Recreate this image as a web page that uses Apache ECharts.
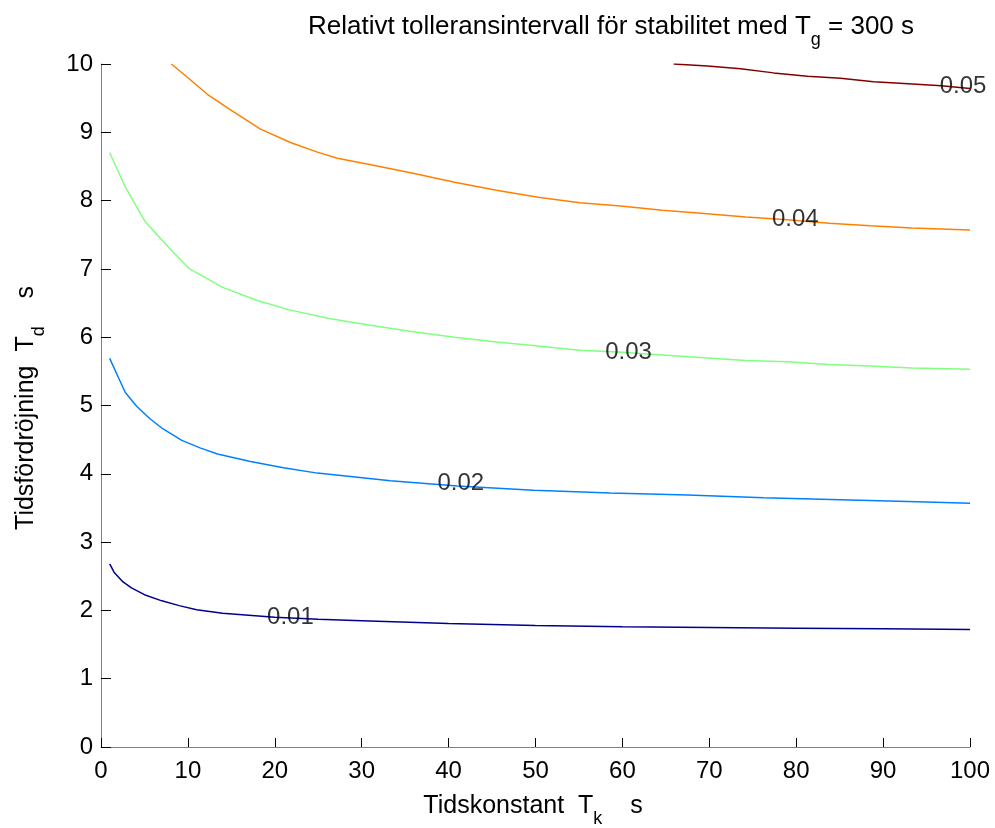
<!DOCTYPE html>
<html>
<head>
<meta charset="utf-8">
<script src="https://cdn.jsdelivr.net/npm/echarts@6/dist/echarts.min.js"></script>
<style>
html,body{margin:0;padding:0;background:#fff;}
#main{width:995px;height:828px;}
</style>
</head>
<body>
<div id="main"></div>
<script>
// Contour level 0.01
const tk01 = [1, 1.5, 2.5, 3.5, 5, 7, 9, 11, 14, 17, 20, 25, 30, 40, 50, 60, 70, 80, 90, 100];
const td01 = [2.68, 2.56, 2.42, 2.33, 2.23, 2.14, 2.07, 2.01, 1.96, 1.93, 1.90, 1.87, 1.85, 1.81, 1.78, 1.76, 1.75, 1.74, 1.73, 1.72];
// Contour level 0.02
const tk02 = [1, 2, 2.8, 4.1, 5.6, 7.1, 9.3, 11.4, 13.4, 17.2, 21, 24.9, 28.7, 33.3, 41, 49.8, 58.6, 67.5, 76.3, 85.1, 93.9, 100];
const td02 = [5.69, 5.41, 5.19, 4.99, 4.81, 4.66, 4.49, 4.38, 4.29, 4.18, 4.09, 4.01, 3.96, 3.90, 3.82, 3.76, 3.72, 3.69, 3.65, 3.62, 3.59, 3.57];
// Contour level 0.03
const tk03 = [1, 2.8, 5.1, 7.9, 10.2, 14, 17.9, 21.7, 26.4, 31.2, 35.9, 40.7, 45.5, 50.3, 55.1, 60, 64.6, 69.4, 74.2, 79, 83.8, 88.5, 93.3, 100];
const td03 = [8.70, 8.20, 7.69, 7.30, 7.00, 6.73, 6.54, 6.40, 6.27, 6.17, 6.08, 6.00, 5.93, 5.87, 5.81, 5.78, 5.74, 5.70, 5.66, 5.64, 5.60, 5.58, 5.55, 5.53];
// Contour level 0.04
const tk04 = [8.1, 9.9, 12.2, 14.9, 17.2, 18.3, 21.8, 24.9, 27.2, 31.2, 35.9, 40.7, 45.5, 50.3, 55.1, 59.8, 64.6, 69.4, 74.2, 79, 83.8, 88.5, 93.3, 100];
const td04 = [10.0, 9.81, 9.56, 9.33, 9.14, 9.05, 8.85, 8.71, 8.62, 8.52, 8.40, 8.27, 8.15, 8.05, 7.97, 7.92, 7.86, 7.81, 7.76, 7.72, 7.67, 7.63, 7.60, 7.57];
// Contour level 0.05
const tk05 = [65.9, 69.8, 73.6, 77.4, 81.3, 85.1, 88.9, 92.9, 96.7, 100];
const td05 = [10.0, 9.97, 9.93, 9.87, 9.82, 9.79, 9.74, 9.71, 9.68, 9.64];

const levelNames = ['0.01', '0.02', '0.03', '0.04', '0.05'];
const levelColors = ['#00008F', '#0080FF', '#80FF80', '#FF8000', '#800000'];
const labelX = [21.8, 41.4, 60.7, 79.9, 99.2];
const labelY = [1.90, 3.86, 5.78, 7.72, 9.67];

const xTicks = [0, 10, 20, 30, 40, 50, 60, 70, 80, 90, 100];
const yTicks = [0, 1, 2, 3, 4, 5, 6, 7, 8, 9, 10];

const curves = [[tk01, td01], [tk02, td02], [tk03, td03], [tk04, td04], [tk05, td05]];

const FONT = 'Liberation Sans, Arial, Helvetica, sans-serif';
const chart = echarts.init(document.getElementById('main'), null, {renderer: 'canvas'});

const series = curves.map((c, i) => ({
  type: 'line',
  name: levelNames[i],
  data: c[0].map((x, j) => [x, c[1][j]]),
  showSymbol: false,
  smooth: false,
  lineStyle: {color: levelColors[i], width: 1.5},
  itemStyle: {color: levelColors[i]},
  animation: false,
  z: 2
}));

series.push({
  type: 'scatter',
  data: labelX.map((x, i) => ({value: [x, labelY[i]], name: levelNames[i]})),
  symbolSize: 1,
  itemStyle: {color: 'rgba(0,0,0,0)'},
  clip: false,
  label: {
    show: true,
    position: 'inside',
    formatter: p => p.name,
    color: '#000',
    fontSize: 24,
    fontFamily: FONT
  },
  animation: false,
  z: 5
});

const richSub = {
  a: {fontSize: 25, fontFamily: FONT, fill: '#000', lineHeight: 44},
  s: {fontSize: 18, fontFamily: FONT, fill: '#000', lineHeight: 10, verticalAlign: 'bottom'}
};

const option = {
  backgroundColor: '#fff',
  animation: false,
  grid: {left: 101, right: 25, top: 64, bottom: 81, containLabel: false},
  xAxis: {
    type: 'value', min: 0, max: 100, interval: 10,
    axisLine: {show: true, lineStyle: {color: '#808080', width: 1}},
    axisTick: {show: true, inside: true, length: 9, lineStyle: {color: '#000', width: 1}},
    axisLabel: {
      color: '#000', fontSize: 24, fontFamily: FONT, margin: 12,
      formatter: v => xTicks.includes(v) ? String(v) : ''
    },
    splitLine: {show: false}
  },
  yAxis: {
    type: 'value', min: 0, max: 10, interval: 1,
    axisLine: {show: true, lineStyle: {color: '#808080', width: 1}},
    axisTick: {show: true, inside: true, length: 10, lineStyle: {color: '#000', width: 1}},
    axisLabel: {
      color: '#000', fontSize: 24, fontFamily: FONT, margin: 8,
      formatter: v => yTicks.includes(v) ? String(v) : ''
    },
    splitLine: {show: false}
  },
  graphic: [
    {
      type: 'text', x: 611, y: 27,
      style: {
        text: '{a|Relativt tolleransintervall för stabilitet med T}{s|g}{a| = 300 s}',
        align: 'center', verticalAlign: 'middle',
        rich: {
          a: {fontSize: 26, fontFamily: FONT, fill: '#000', lineHeight: 44},
          s: {fontSize: 18, fontFamily: FONT, fill: '#000', lineHeight: 10, verticalAlign: 'bottom'}
        }
      }
    },
    {
      type: 'text', x: 533, y: 806,
      style: {
        text: '{a|Tidskonstant  T}{s|k}{a|    s}',
        align: 'center', verticalAlign: 'middle',
        rich: richSub
      }
    },
    {
      type: 'text', x: 26, y: 408, rotation: Math.PI / 2,
      style: {
        text: '{a|Tidsfördröjning  T}{s|d}{a|    s}',
        align: 'center', verticalAlign: 'middle',
        rich: richSub
      }
    }
  ],
  series: series
};
chart.setOption(option);
</script>
</body>
</html>
